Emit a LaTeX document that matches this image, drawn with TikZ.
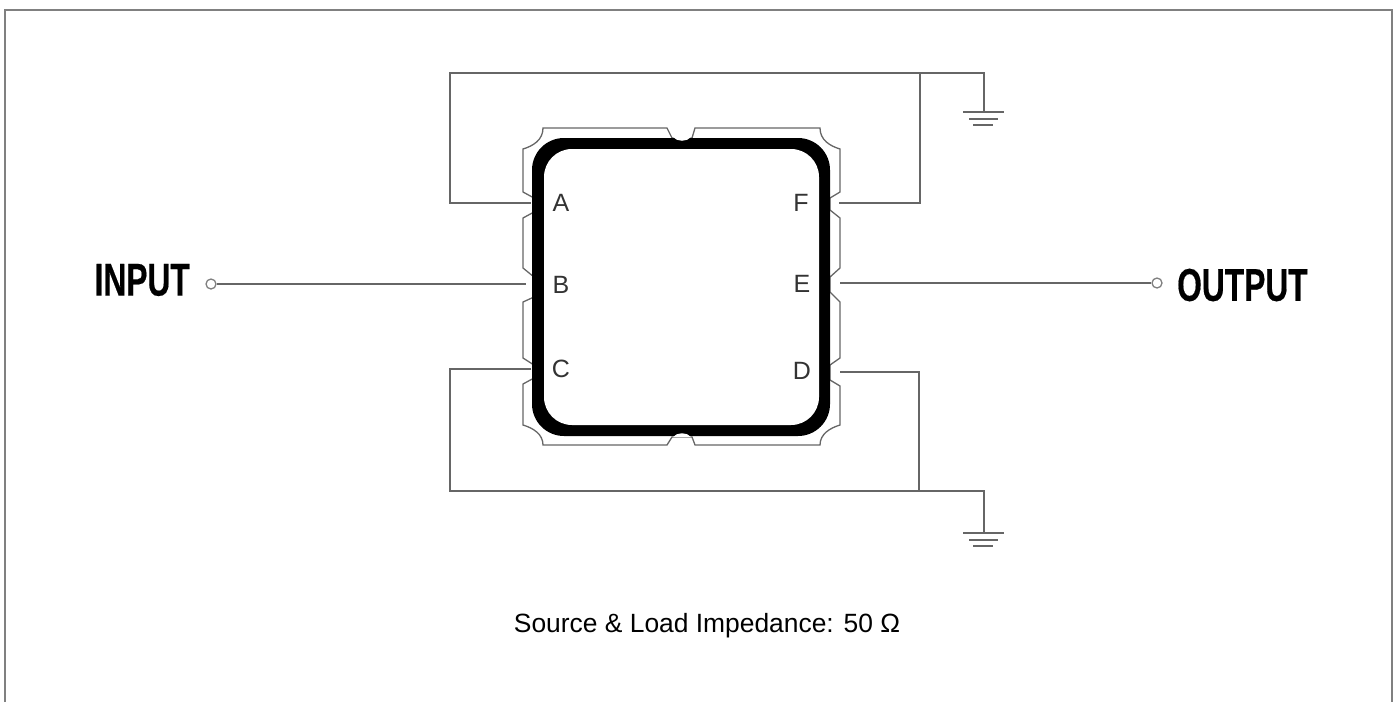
\documentclass[tikz,border=0pt]{standalone}
\usepackage{fontspec}
\setmainfont{Liberation Sans}
\newfontfamily\portfont[FakeStretch=0.69,FakeBold=0.4]{Liberation Sans}
\tikzset{
  wire/.style={draw=black!60,line width=1.2pt},
  port/.style={draw=black!50,line width=1.3pt,circle,fill=white,inner sep=0pt,minimum size=10pt},
  portlabel/.style={inner sep=0pt,font=\portfont\bfseries\fontsize{46}{46}\selectfont},
  pinlabel/.style={inner sep=0pt,text=black!80,font=\fontsize{25}{25}\selectfont}
}
\begin{document}
\begin{tikzpicture}[x=1pt,y=-1pt]
      \useasboundingbox (0,0) rectangle (1399,702);
      \draw[black!50,line width=2.6pt] (5,702)--(5,10)--(1392,10)--(1392,702);

      % package outline
      \draw[black!60,line width=1.3pt] (543,128)--(667,128)--(672,138)--(692,138)--(695,128)--(820,128)
         .. controls (820,140) and (830,146) .. (840,149)--(840,192)--(830,198)--(830,210)--(840,218)
         --(840,268)--(830,277)--(830,292)--(840,302)--(840,358)--(830,365)--(830,380)--(840,386)
         --(840,425) .. controls (830,428) and (820,434) .. (820,445)--(695,445)--(692,437)--(672,437)--(667,445)
         --(543,445) .. controls (543,434) and (533,428) .. (523,425)--(523,384)--(534,378)--(534,365)--(523,358)
         --(523,302)--(534,297)--(534,277)--(523,268)--(523,218)--(534,212)--(534,198)--(523,192)--(523,149)
         .. controls (533,146) and (543,140) .. cycle;
      \fill[rounded corners=32pt] (532,138) rectangle (830,436);
      \fill[white,rounded corners=28pt] (544,149) rectangle (819,425);
      \fill[white] (673,137) .. controls (677,142) and (687,142) .. (691,137)--cycle;
      \fill[white] (673,437) .. controls (677,432) and (687,432) .. (691,437)--cycle;

      \coordinate (pinA) at (531,203);
      \coordinate (pinB) at (526,284);
      \coordinate (pinC) at (531,369);
      \coordinate (pinD) at (840,372);
      \coordinate (pinE) at (840,283);
      \coordinate (pinF) at (839,203);
      \coordinate (topleft) at (450,73);
      \coordinate (topjoin) at (920,73);
      \coordinate (topgnd) at (984,73);
      \coordinate (botleft) at (450,491);
      \coordinate (botjoin) at (919,491);
      \coordinate (botgnd) at (984,491);
      \coordinate (gndA) at (984,112);
      \coordinate (gndB) at (984,533);

      \node[pinlabel] (labA) at (561,203) {A};
      \node[pinlabel] (labB) at (561,285) {B};
      \node[pinlabel] (labC) at (561,369) {C};
      \node[pinlabel] (labD) at (802,371) {D};
      \node[pinlabel] (labE) at (802,284) {E};
      \node[pinlabel] (labF) at (801,203) {F};

      \node[port] (inport) at (211,284) {};
      \node[port] (outport) at (1157,283) {};
      \node[portlabel,anchor=east] (input) at (190,280) {INPUT};
      \node[portlabel,anchor=west] (output) at (1177,285) {OUTPUT};

      \draw[wire] (inport)--(pinB);
      \draw[wire] (pinE)--(outport);
      \draw[wire] (pinA)--(pinA-|topleft)--(topleft)--(topgnd)--(gndA);
      \draw[wire] (pinF)--(pinF-|topjoin)--(topjoin);
      \draw[wire] (pinC)--(pinC-|botleft)--(botleft)--(botgnd)--(gndB);
      \draw[wire] (pinD)--(pinD-|botjoin)--(botjoin);

      % ground symbols
      \foreach \g in {gndA,gndB} {
         \draw[wire] ([xshift=-21pt]\g)--([xshift=20pt]\g);
         \draw[wire] ([xshift=-15pt,yshift=-7pt]\g)--([xshift=14pt,yshift=-7pt]\g);
         \draw[wire] ([xshift=-11pt,yshift=-13pt]\g)--([xshift=9pt,yshift=-13pt]\g);
      }

      \node[inner sep=0pt,anchor=base,font=\fontsize{26.4}{26.4}\selectfont] (caption) at (707,632) {Source \& Load Impedance: 50 Ω};

\end{tikzpicture}
\end{document}
